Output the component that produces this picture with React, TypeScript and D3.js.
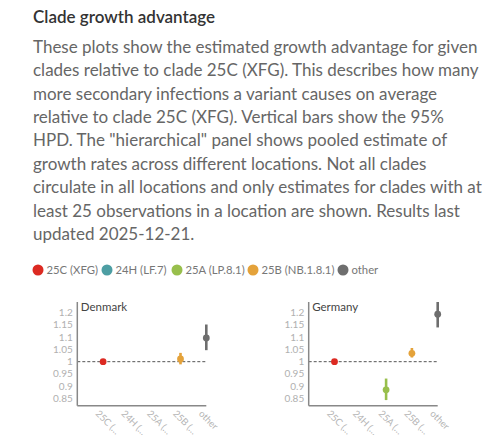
import * as d3 from 'd3';

const clades = ['25C (XFG)', '24H (LF.7)', '25A (LP.8.1)', '25B (NB.1.8.1)', 'other'];
const cladeShort = ['25C (…', '24H (…', '25A (…', '25B (…', 'other'];
const cladeColors = ['#dc2a22', '#4d9ea3', '#98bf4c', '#e4a23a', '#6e6e6e'];

const locations = ['Denmark', 'Germany'];
// growth advantage per clade: median and 95% HPD, null = not estimated
const denmarkMedian = [1, null, null, 1.011, 1.097];
const denmarkLower = [1, null, null, 0.989, 1.047];
const denmarkUpper = [1, null, null, 1.036, 1.152];
const germanyMedian = [1, null, 0.885, 1.034, 1.194];
const germanyLower = [1, null, 0.843, 1.017, 1.14];
const germanyUpper = [1, null, 0.931, 1.056, 1.244];

const yTicks = [0.85, 0.9, 0.95, 1, 1.05, 1.1, 1.15, 1.2];

const bodyLines = [
  'These plots show the estimated growth advantage for given',
  'clades relative to clade 25C (XFG). This describes how many',
  'more secondary infections a variant causes on average',
  'relative to clade 25C (XFG). Vertical bars show the 95%',
  'HPD. The "hierarchical" panel shows pooled estimate of',
  'growth rates across different locations. Not all clades',
  'circulate in all locations and only estimates for clades with at',
  'least 25 observations in a location are shown. Results last',
  'updated 2025-12-21.',
];

const legendX = [38, 107, 177, 253, 343];

const FONT = 'Lato, "Open Sans", sans-serif';

function Panel({ name, left, median, lower, upper }: {
  name: string; left: number; median: (number | null)[]; lower: (number | null)[]; upper: (number | null)[];
}) {
  const step = 25.8;
  const x = d3.scalePoint<string>().domain(clades).range([left + step, left + step * 5]);
  const y = d3.scaleLinear().domain([0.82, 1.244]).range([405.7, 302]);
  const x1 = left + step * 5;
  return (
    <g>
      <line x1={left} x2={x1} y1={y(1)} y2={y(1)} stroke="#555" strokeWidth={1} strokeDasharray="3,2" />
      {yTicks.map(t => (
        <text key={t} x={left - 4.5} y={y(t)} dy="0.35em" textAnchor="end" fontSize={10} fill="#b0b0b0" fontFamily={FONT}>
          {d3.format('~g')(t)}
        </text>
      ))}
      <line x1={left} x2={left} y1={y.range()[1]} y2={y.range()[0]} stroke="#888" strokeWidth={1.5} />
      <line x1={left} x2={x1} y1={y.range()[0]} y2={y.range()[0]} stroke="#888" strokeWidth={1.5} />
      {clades.map((c, i) => (
        <text key={c} transform={`translate(${x(c)! - 3},${y.range()[0] + 3.5}) rotate(45)`} fontSize={9.5}
          fill="#b5b5b5" fontFamily={FONT} dominantBaseline="hanging">
          {cladeShort[i]}
        </text>
      ))}
      {clades.map((c, i) => median[i] == null ? null : (
        <g key={c}>
          {upper[i] !== lower[i] && (
            <line x1={x(c)} x2={x(c)} y1={y(lower[i]!)} y2={y(upper[i]!)} stroke={cladeColors[i]} strokeWidth={2.6} />
          )}
          <circle cx={x(c)} cy={y(median[i]!)} r={3.4} fill={cladeColors[i]} />
        </g>
      ))}
      <text x={left + 3.5} y={310.5} fontSize={11.5} fill="#444" fontFamily={FONT}>{name}</text>
    </g>
  );
}

export default function App() {
  return (
    <svg width={500} height={435} style={{ position: 'absolute', left: 0, top: 0, background: '#fff' }}>
      <text x={33} y={22.5} fontSize={17} fontWeight={600} fill="#333" fontFamily={FONT}>Clade growth advantage</text>
      {bodyLines.map((l, i) => (
        <text key={i} x={33} y={52.7 + i * 23.4} fontSize={17} fill="#666" fontFamily={FONT}>{l}</text>
      ))}
      {clades.map((c, i) => (
        <g key={c}>
          <circle cx={legendX[i]} cy={270} r={5.5} fill={cladeColors[i]} />
          <text x={legendX[i] + 8.5} y={270} dy="0.35em" fontSize={11.3} fill="#777" fontFamily={FONT}>{c}</text>
        </g>
      ))}
      <Panel name={locations[0]} left={77.3} median={denmarkMedian} lower={denmarkLower} upper={denmarkUpper} />
      <Panel name={locations[1]} left={308.7} median={germanyMedian} lower={germanyLower} upper={germanyUpper} />
    </svg>
  );
}
